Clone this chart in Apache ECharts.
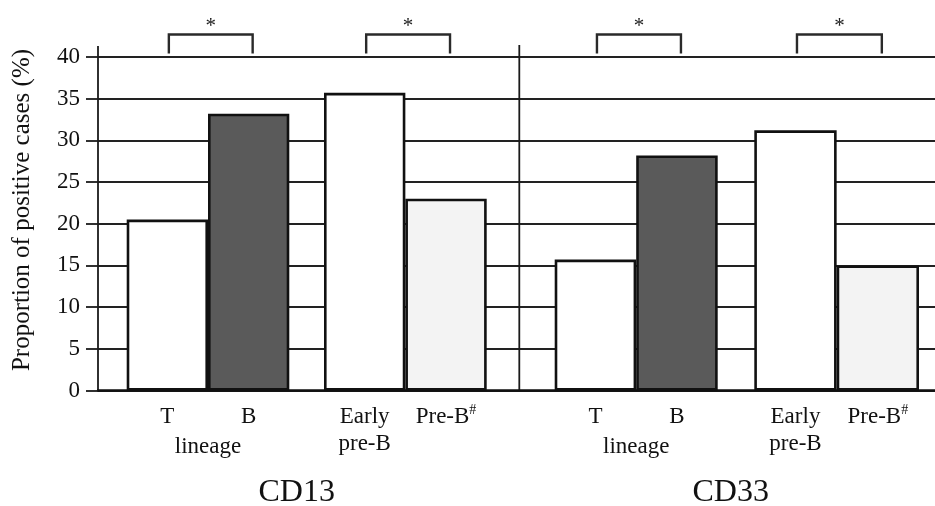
<!DOCTYPE html>
<html>
<head>
<meta charset="utf-8">
<script src="https://cdn.jsdelivr.net/npm/echarts@6/dist/echarts.min.js"></script>
<style>
html,body{margin:0;padding:0;background:#fff;}
#chart{width:935px;height:506px;}
</style>
</head>
<body>
<div id="chart"></div>
<script>
// ---- data ----
const groupNames = ['CD13', 'CD33'];
const lineageCats = ['T', 'B'];
const subtypeCats = ['Early\npre-B', 'Pre-B#'];
const lineageName = 'lineage';
const cd13Lineage = [20.5, 33.2];
const cd13Subtype = [35.7, 23.0];
const cd33Lineage = [15.7, 28.2];
const cd33Subtype = [31.2, 15.0];
const yMin = 0, yMax = 40, yStep = 5;
const yTitle = 'Proportion of positive cases (%)';
const sigMark = '*';

// ---- layout / style ----
const FONT = '"Liberation Serif", "DejaVu Serif", serif';
const TOP = 57, BOTTOM = 115.5;
const panels = [
  {cats: lineageCats, values: cd13Lineage, colors: ['#ffffff', '#5a5a5a'], name: lineageName, left: 126.7, right: 645.7},
  {cats: subtypeCats, values: cd13Subtype, colors: ['#ffffff', '#f3f3f3'], name: '', left: 324, right: 448.3},
  {cats: lineageCats, values: cd33Lineage, colors: ['#ffffff', '#5a5a5a'], name: lineageName, left: 554.7, right: 217.3},
  {cats: subtypeCats, values: cd33Subtype, colors: ['#ffffff', '#f3f3f3'], name: '', left: 754.3, right: 16}
];

const chart = echarts.init(document.getElementById('chart'));

const grids = [{left: 98, right: 0, top: TOP, bottom: BOTTOM}];
const xAxes = [{
  type: 'value', gridIndex: 0, min: 0, max: 1,
  axisLine: {show: true, lineStyle: {color: '#111', width: 2.5}},
  axisTick: {show: false}, axisLabel: {show: false}, splitLine: {show: false}
}];
const yAxes = [{
  type: 'value', gridIndex: 0, min: yMin, max: yMax, interval: yStep,
  axisLine: {show: true, lineStyle: {color: '#1a1a1a', width: 1.8}},
  axisTick: {show: true, length: 12, lineStyle: {color: '#1a1a1a', width: 1.8}},
  axisLabel: {fontFamily: FONT, fontSize: 23, color: '#111', margin: 18},
  splitLine: {show: true, lineStyle: {color: '#222', width: 1.8}}
}];
const series = [];

panels.forEach((p, i) => {
  const gi = i + 1;
  grids.push({left: p.left, right: p.right, top: TOP, bottom: BOTTOM});
  xAxes.push({
    type: 'category', gridIndex: gi, data: p.cats,
    axisLine: {show: false}, axisTick: {show: false}, splitLine: {show: false},
    axisLabel: {
      interval: 0, fontFamily: FONT, fontSize: 23, color: '#111', margin: 13,
      lineHeight: 27, verticalAlign: 'top',
      formatter: v => v.endsWith('#') ? v.slice(0, -1) + '{sup|#}' : v,
      rich: {sup: {fontFamily: FONT, fontSize: 14, color: '#111', verticalAlign: 'top', padding: [0, 0, 10, 0]}}
    },
    name: p.name, nameLocation: 'middle', nameGap: 40,
    nameTextStyle: {fontFamily: FONT, fontSize: 23, color: '#111', verticalAlign: 'top'}
  });
  yAxes.push({type: 'value', gridIndex: gi, min: yMin, max: yMax, interval: yStep, show: false});
  series.push({
    type: 'bar', xAxisIndex: gi, yAxisIndex: gi, barCategoryGap: 0, barGap: 0,
    silent: true,
    itemStyle: {borderColor: '#111', borderWidth: 2.6},
    data: p.values.map((v, j) => ({value: v, itemStyle: {color: p.colors[j]}}))
  });
});

chart.setOption({
  animation: false,
  backgroundColor: '#ffffff',
  grid: grids, xAxis: xAxes, yAxis: yAxes, series: series
});

// ---- annotations ----
const graphics = [];
// y axis title
graphics.push({type: 'text', x: 22, y: 210, rotation: Math.PI / 2,
  style: {text: yTitle, fontFamily: FONT, fontSize: 25, fill: '#111', align: 'center', verticalAlign: 'middle'}});
// y axis extends slightly above 40
graphics.push({type: 'line', shape: {x1: 98, y1: 46, x2: 98, y2: TOP}, style: {stroke: '#1a1a1a', lineWidth: 1.8}});
// divider between CD13 and CD33
graphics.push({type: 'line', shape: {x1: 519.3, y1: 45, x2: 519.3, y2: 506 - BOTTOM}, style: {stroke: '#1a1a1a', lineWidth: 1.8}});
// significance brackets
panels.forEach((p, i) => {
  const gi = i + 1;
  const a = chart.convertToPixel({xAxisIndex: gi, yAxisIndex: gi}, [p.cats[0], yMax]);
  const b = chart.convertToPixel({xAxisIndex: gi, yAxisIndex: gi}, [p.cats[1], yMax]);
  const x1 = a[0] + 1.5, x2 = b[0] + 4;
  graphics.push({type: 'polyline', shape: {points: [[x1, 53.5], [x1, 34.5], [x2, 34.5], [x2, 53.5]]},
    style: {stroke: '#2a2a2a', lineWidth: 2.4, fill: null}});
  graphics.push({type: 'text', x: (x1 + x2) / 2, y: 26,
    style: {text: sigMark, fontFamily: FONT, fontSize: 21, fill: '#222', align: 'center', verticalAlign: 'middle'}});
});
// group titles
graphics.push({type: 'text', x: 296.7, y: 493, style: {text: groupNames[0], fontFamily: FONT, fontSize: 32, fill: '#111', align: 'center', verticalAlign: 'middle'}});
graphics.push({type: 'text', x: 730.7, y: 493, style: {text: groupNames[1], fontFamily: FONT, fontSize: 32, fill: '#111', align: 'center', verticalAlign: 'middle'}});

chart.setOption({graphic: graphics});
</script>
</body>
</html>
